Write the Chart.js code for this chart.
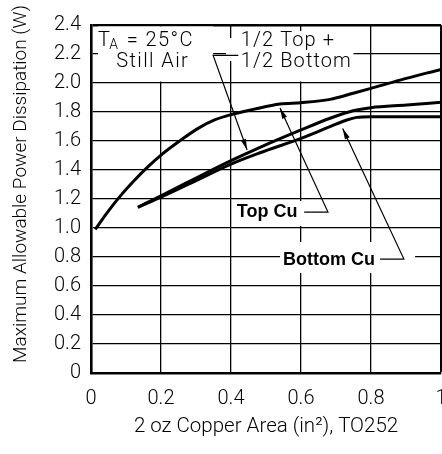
<!DOCTYPE html>
<html>
<head>
<meta charset="utf-8">
<script src="https://cdn.jsdelivr.net/npm/chart.js@4/dist/chart.umd.min.js"></script>
<style>
    html, body { margin: 0; padding: 0; background: #fff; }
    #wrap { width: 442px; height: 454px; }
</style>
</head>
<body>
<div id="wrap"><canvas id="powerChart"></canvas></div>
<script>
const xTickValues = [0, 0.2, 0.4, 0.6, 0.8, 1];
const xTickLabels = ['0', '0.2', '0.4', '0.6', '0.8', '1'];
const yTickValues = [0, 0.2, 0.4, 0.6, 0.8, 1.0, 1.2, 1.4, 1.6, 1.8, 2.0, 2.2, 2.4];
const yTickLabels = ['0', '0.2', '0.4', '0.6', '0.8', '1.0', '1.2', '1.4', '1.6', '1.8', '2.0', '2.2', '2.4'];

// 1/2 top + 1/2 bottom copper
const halfArea = [0.012, 0.049, 0.087, 0.125, 0.163, 0.2, 0.253, 0.306, 0.353, 0.4, 0.464, 0.54, 0.6, 0.683, 0.749, 0.8, 0.883, 1.0];
const halfPower = [0.99, 1.115, 1.23, 1.331, 1.423, 1.503, 1.60, 1.687, 1.745, 1.782, 1.818, 1.855, 1.864, 1.887, 1.929, 1.963, 2.02, 2.094];

// top copper only
const topArea = [0.134, 0.2, 0.277, 0.4, 0.483, 0.6, 0.683, 0.749, 0.8, 0.902, 1.0];
const topPower = [1.143, 1.222, 1.316, 1.464, 1.556, 1.676, 1.757, 1.809, 1.83, 1.848, 1.867];

// bottom copper only
const bottomArea = [0.134, 0.2, 0.277, 0.4, 0.483, 0.6, 0.683, 0.731, 0.759, 0.8, 1.0];
const bottomPower = [1.143, 1.213, 1.30, 1.441, 1.519, 1.618, 1.699, 1.745, 1.763, 1.768, 1.768];

const FONT = 'Roboto, "Liberation Sans", Arial, sans-serif';
const BOLD_FONT = '"Liberation Sans", Arial, sans-serif';

function toPoints(xs, ys) {
    return xs.map((x, i) => ({ x: x, y: ys[i] }));
}

function curve(label, xs, ys) {
    return {
        label: label,
        data: toPoints(xs, ys),
        borderColor: '#000',
        borderWidth: 3,
        pointRadius: 0,
        fill: false,
        cubicInterpolationMode: 'monotone'
    };
}

function whiteBox(chart, x1, y1, x2, y2) {
    const { ctx, scales } = chart;
    const l = scales.x.getPixelForValue(x1);
    const r = scales.x.getPixelForValue(x2);
    const t = scales.y.getPixelForValue(y1);
    const b = scales.y.getPixelForValue(y2);
    ctx.fillStyle = '#fff';
    ctx.fillRect(l, t, r - l, b - t);
}

function leader(chart, pts) {
    const { ctx, scales } = chart;
    const p = pts.map(([x, y]) => [scales.x.getPixelForValue(x), scales.y.getPixelForValue(y)]);
    ctx.strokeStyle = '#000';
    ctx.lineWidth = 1.2;
    ctx.beginPath();
    ctx.moveTo(p[0][0], p[0][1]);
    p.slice(1).forEach(q => ctx.lineTo(q[0], q[1]));
    ctx.stroke();

    // arrow head at the last point
    const [tx, ty] = p[p.length - 1];
    const [fx, fy] = p[p.length - 2];
    const a = Math.atan2(ty - fy, tx - fx);
    const len = 11, half = 2.6;
    ctx.fillStyle = '#000';
    ctx.beginPath();
    ctx.moveTo(tx, ty);
    ctx.lineTo(tx - len * Math.cos(a) + half * Math.sin(a), ty - len * Math.sin(a) - half * Math.cos(a));
    ctx.lineTo(tx - len * Math.cos(a) - half * Math.sin(a), ty - len * Math.sin(a) + half * Math.cos(a));
    ctx.closePath();
    ctx.fill();
}

function label(chart, text, x, y, font, align, spacing) {
    const { ctx, scales } = chart;
    ctx.font = font;
    ctx.letterSpacing = spacing || '0px';
    ctx.fillStyle = '#000';
    ctx.textAlign = align || 'left';
    ctx.textBaseline = 'middle';
    ctx.fillText(text, scales.x.getPixelForValue(x), scales.y.getPixelForValue(y));
    ctx.letterSpacing = '0px';
}

const notesPlugin = {
    id: 'notes',
    beforeDatasetsDraw(chart) {
        const ctx = chart.ctx;
        ctx.save();
        whiteBox(chart, 0.02, 2.39, 0.349, 2.01);
        whiteBox(chart, 0.414, 2.359, 0.75, 2.01);
        whiteBox(chart, 0.386, 2.31, 0.414, 2.152);
        whiteBox(chart, 0.406, 1.186, 0.683, 1.014);
        whiteBox(chart, 0.54, 0.903, 0.926, 0.69);
        ctx.restore();
    },
    afterDatasetsDraw(chart) {
        const { ctx, scales, chartArea } = chart;
        ctx.save();

        // T_A = 25°C
        const thin = '300 20px ' + FONT;
        const gap = '1.1px';
        let x0 = scales.x.getPixelForValue(0.02);
        const yA = scales.y.getPixelForValue(2.29);
        ctx.fillStyle = '#000';
        ctx.textAlign = 'left';
        ctx.textBaseline = 'middle';
        ctx.letterSpacing = '1.4px';
        ctx.font = thin;
        ctx.fillText('T', x0, yA);
        x0 += ctx.measureText('T').width - 2;
        ctx.font = '300 14px ' + FONT;
        ctx.fillText('A', x0, yA + 5);
        x0 += ctx.measureText('A').width + 1;
        ctx.font = thin;
        ctx.fillText(' = 25°C', x0, yA);
        ctx.letterSpacing = '0px';

        label(chart, 'Still Air', 0.072, 2.145, thin, 'left', '1.4px');
        label(chart, '1/2 Top +', 0.428, 2.29, thin, 'left', gap);
        label(chart, '1/2 Bottom', 0.428, 2.145, thin, 'left', gap);

        const bold = 'bold 18px ' + BOLD_FONT;
        label(chart, 'Top Cu', 0.503, 1.11, bold, 'center');
        label(chart, 'Bottom Cu', 0.68, 0.779, bold, 'center');

        leader(chart, [[0.421, 2.19], [0.349, 2.19], [0.446, 1.538]]);
        leader(chart, [[0.609, 1.11], [0.677, 1.11], [0.54, 1.828]]);
        leader(chart, [[0.826, 0.786], [0.894, 0.786], [0.719, 1.687]]);

        // y axis title, drawn by hand so it sits where the original has it
        ctx.translate(chartArea.left - 70, (chartArea.top + chartArea.bottom) / 2 - 15);
        ctx.rotate(-Math.PI / 2);
        ctx.font = '300 19px ' + FONT;
        ctx.textAlign = 'center';
        ctx.textBaseline = 'middle';
        ctx.fillText('Maximum Allowable Power Dissipation (W)', 0, 0);

        ctx.restore();
    }
};

function gridWidth(edgeValue) {
    return (c) => (c.tick && Math.abs(c.tick.value - edgeValue) < 1e-6 ? 2.6 : 1.3);
}

const ctx = document.getElementById('powerChart').getContext('2d');

new Chart(ctx, {
    type: 'line',
    data: {
        datasets: [
            curve('1/2 Top + 1/2 Bottom', halfArea, halfPower),
            curve('Top Cu', topArea, topPower),
            curve('Bottom Cu', bottomArea, bottomPower)
        ]
    },
    options: {
        responsive: true,
        maintainAspectRatio: false,
        animation: false,
        layout: { padding: { left: 0, top: 25, right: 1, bottom: 0 } },
        plugins: {
            legend: { display: false },
            tooltip: { enabled: false }
        },
        scales: {
            x: {
                type: 'linear',
                min: 0,
                max: 1,
                afterBuildTicks: (s) => { s.ticks = xTickValues.map(v => ({ value: v })); },
                afterFit: (s) => { s.height = 81; s.paddingLeft = 0; s.paddingRight = 0; },
                grid: { color: '#000', lineWidth: gridWidth(1), drawTicks: false },
                border: { color: '#000', width: 2.6 },
                ticks: {
                    color: '#000',
                    padding: 14,
                    maxRotation: 0,
                    font: { family: FONT, size: 20, weight: 300 },
                    callback: (v, i) => xTickLabels[i]
                },
                title: {
                    display: true,
                    text: '2 oz Copper Area (in²), TO252',
                    color: '#000',
                    font: { family: FONT, size: 20.5, weight: 300 },
                    padding: { top: 0, bottom: 15 }
                }
            },
            y: {
                type: 'linear',
                min: 0,
                max: 2.4,
                afterBuildTicks: (s) => { s.ticks = yTickValues.map(v => ({ value: v })); },
                afterFit: (s) => { s.width = 91; s.paddingTop = 0; s.paddingBottom = 0; },
                grid: { color: '#000', lineWidth: gridWidth(2.4), drawTicks: false },
                border: { color: '#000', width: 2.6 },
                ticks: {
                    color: '#000',
                    padding: 10,
                    font: { family: FONT, size: 20, weight: 300 },
                    callback: (v, i) => yTickLabels[i]
                }
            }
        }
    },
    plugins: [notesPlugin]
});
</script>
</body>
</html>
